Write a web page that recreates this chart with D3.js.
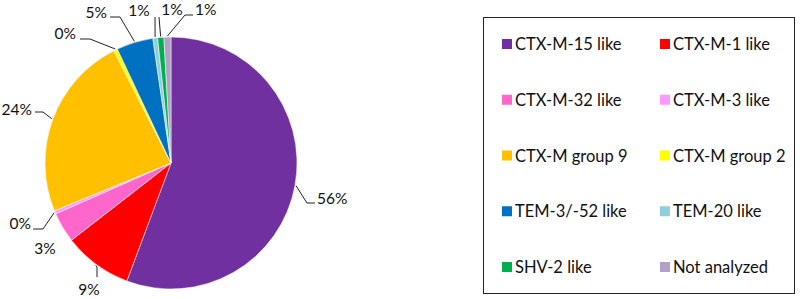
<!DOCTYPE html>
<html>
<head>
<meta charset="utf-8">
<script src="https://cdn.jsdelivr.net/npm/d3@7"></script>
<style>
  html, body { margin: 0; padding: 0; background: #fff; }
  svg { display: block; }
  text { font-family: Lato, "Liberation Sans", sans-serif; fill: #111; }
</style>
</head>
<body>
<svg id="chart" width="800" height="299"></svg>
<script>
// ---- data ----
const categories = ["CTX-M-15 like", "CTX-M-1 like", "CTX-M-32 like", "CTX-M-3 like",
  "CTX-M group 9", "CTX-M group 2", "TEM-3/-52 like", "TEM-20  like", "SHV-2 like", "Not analyzed"];
const values = [55.7, 8.8, 3.9, 0.4, 23.7, 0.5, 4.7, 0.6, 0.8, 0.9];
const valueLabels = ["56%", "9%", "3%", "0%", "24%", "0%", "5%", "1%", "1%", "1%"];
const colors = ["#7030A0", "#FF0000", "#FF66CC", "#FF99FF", "#FFC000", "#FFFF00",
  "#0070C0", "#92CDDC", "#00B050", "#B2A1C7"];

// ---- layout (label placement relative to pie centre) ----
const labelLayout = [
  { pts: [[136, 40], [144, 40]], tx: 146, ty: 35, anchor: "start" },
  { pts: [[-74, 104], [-74, 114]], tx: -82, ty: 126, anchor: "middle" },
  { pts: [], tx: -126, ty: 85, anchor: "middle" },
  { pts: [[-128, 66], [-138, 66]], tx: -140, ty: 60, anchor: "end" },
  { pts: [[-128, -51], [-136, -51]], tx: -139, ty: -54, anchor: "end" },
  { pts: [[-81, -124], [-91, -124]], tx: -95, ty: -130, anchor: "end" },
  { pts: [[-51, -146], [-61, -146]], tx: -64, ty: -151, anchor: "end" },
  { pts: [[-16, -146]], tx: -32, ty: -153, anchor: "middle" },
  { pts: [[-12, -146]], tx: 1, ty: -154, anchor: "middle" },
  { pts: [[14, -148], [22, -148]], tx: 24, ty: -154, anchor: "start" }
];

const svg = d3.select("#chart");
const cx = 171, cy = 163, R = 126;

const pie = d3.pie().sort(null).value(d => d);
const arcs = pie(values);
const arc = d3.arc().innerRadius(0).outerRadius(R);

const g = svg.append("g").attr("transform", `translate(${cx},${cy})`);

g.selectAll("path.slice")
  .data(arcs)
  .join("path")
  .attr("class", "slice")
  .attr("d", arc)
  .attr("fill", (d, i) => colors[i])
  .attr("stroke", "#fff")
  .attr("stroke-width", 0.5);

// leader lines
const line = d3.line();
g.selectAll("path.leader")
  .data(arcs)
  .join("path")
  .attr("class", "leader")
  .attr("d", (d, i) => {
    const lay = labelLayout[i];
    if (!lay.pts.length) return null;
    const a = (d.startAngle + d.endAngle) / 2;
    const start = [Math.sin(a) * (R + 1), -Math.cos(a) * (R + 1)];
    return line([start, ...lay.pts]);
  })
  .attr("fill", "none")
  .attr("stroke", "#222")
  .attr("stroke-width", 1);

g.selectAll("text.pct")
  .data(arcs)
  .join("text")
  .attr("class", "pct")
  .attr("x", (d, i) => labelLayout[i].tx)
  .attr("y", (d, i) => labelLayout[i].ty)
  .attr("text-anchor", (d, i) => labelLayout[i].anchor)
  .attr("dominant-baseline", "central")
  .style("font-size", "15.5px")
  .text((d, i) => valueLabels[i]);

// legend
const legend = svg.append("g");
legend.append("rect")
  .attr("x", 483.5).attr("y", 17.5)
  .attr("width", 311).attr("height", 276)
  .attr("fill", "#fff").attr("stroke", "#222").attr("stroke-width", 1);

const colX = d3.scaleOrdinal().domain([0, 1]).range([502, 660]);
const rowY = d3.scalePoint().domain(d3.range(5)).range([44, 267]);

const items = legend.selectAll("g.item")
  .data(categories)
  .join("g")
  .attr("class", "item")
  .attr("transform", (d, i) => `translate(${colX(i % 2)},${rowY(Math.floor(i / 2))})`);

items.append("rect")
  .attr("x", 0).attr("y", -5).attr("width", 10).attr("height", 10)
  .attr("fill", (d, i) => colors[i]);

items.append("text")
  .attr("x", 13).attr("y", 0)
  .attr("dominant-baseline", "central")
  .style("font-size", "16.5px")
  .text(d => d);
</script>
</body>
</html>
